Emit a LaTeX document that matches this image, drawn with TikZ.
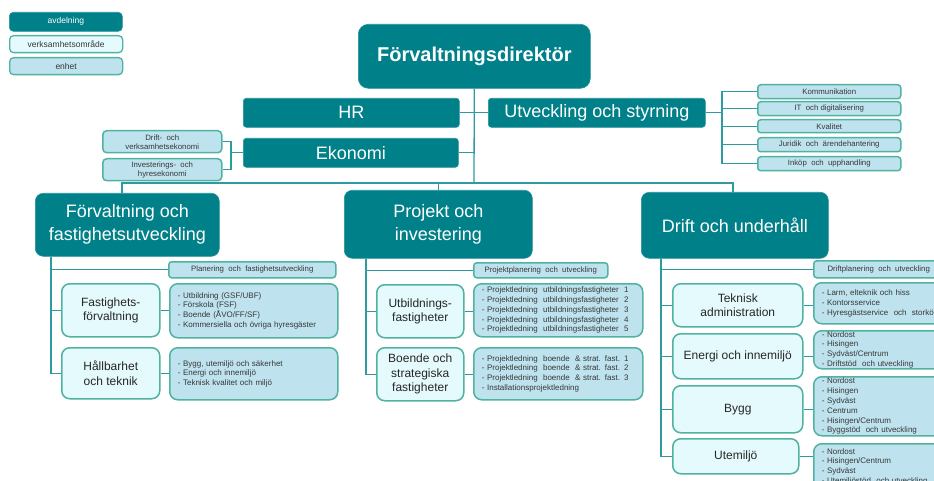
\documentclass[tikz,border=0pt]{standalone}
\usepackage{fontspec}
\setmainfont{Liberation Sans}
\definecolor{dteal}{RGB}{0,128,137}
\definecolor{edgeg}{RGB}{80,178,160}
\definecolor{lfill}{RGB}{229,250,252}
\definecolor{bfill}{RGB}{190,227,238}
\definecolor{wire}{RGB}{46,156,158}
\definecolor{txt}{RGB}{55,55,55}
\newcommand\bx[7]{\pgfmathsetmacro\myW{#5-#3}\pgfmathsetmacro\myH{#6-#4}%
  \node[#1, minimum width=\myW pt, minimum height=\myH pt] (#2) at (#3,#4) {#7};}
\newcommand\lx[7]{\pgfmathsetmacro\myW{#5-#3-16}\pgfmathsetmacro\myH{#6-#4}%
  \node[#1, text width=\myW pt, inner xsep=8pt, minimum height=\myH pt] (#2) at (#3,#4) {#7};}
\tikzset{
  base/.style={anchor=north west, inner sep=0pt, align=center},
  avd/.style={base, fill=dteal, draw=dteal!85!white, line width=0.6pt, text=white, rounded corners=8pt},
  avdsmall/.style={avd, rounded corners=3pt},
  verk/.style={base, fill=lfill, draw=edgeg, line width=1.5pt, text=black!85, rounded corners=8pt, font=\fontsize{12}{14.5}\selectfont},
  enh/.style={base, fill=bfill, draw=edgeg, line width=1.5pt, text=txt, rounded corners=3pt, font=\fontsize{7.8}{9}\selectfont},
  lst/.style={base, align=left, fill=bfill, draw=edgeg, line width=1.5pt, text=txt, rounded corners=8pt, font=\fontsize{8}{9.8}\selectfont},
  wirel/.style={draw=wire, line width=1.3pt},
  big/.style={font=\fontsize{18}{23}\selectfont},
}
\begin{document}
\begin{tikzpicture}[x=1pt,y=-1pt]
\useasboundingbox (0,0) rectangle (934,481);
\clip (0,0) rectangle (934,481);
\fill[white] (0,0) rectangle (934,481);
% legend
\bx{avdsmall, rounded corners=4pt, font=\fontsize{8.5}{10}\selectfont}{lega}{9}{12}{122}{31}{avdelning}
\bx{verk, rounded corners=4pt, line width=1.3pt, font=\fontsize{8.5}{10}\selectfont, text=txt}{legb}{9}{35}{122}{52}{verksamhetsområde}
\bx{enh, rounded corners=4pt, line width=1.3pt, font=\fontsize{8.5}{10}\selectfont}{legc}{9}{57}{122}{74}{enhet}
% top
\bx{avd, rounded corners=10pt, font=\fontsize{20}{24}\selectfont\bfseries}{dir}{358}{24}{590}{88}{Förvaltningsdirektör}
\bx{avdsmall, big}{hr}{243}{98}{459}{127}{HR}
\bx{avdsmall, big}{ut}{488}{98}{705}{127}{Utveckling och styrning}
\bx{avdsmall, big}{ek}{243}{138}{458}{167}{Ekonomi}
% right top list
\bx{enh}{k1}{757}{84}{900}{98}{Kommunikation}
\bx{enh}{k2}{757}{101}{900}{115}{IT\ \ och digitalisering}
\bx{enh}{k3}{757}{119}{900}{132}{Kvalitet}
\bx{enh}{k4}{757}{137}{900}{151}{Juridik\ \ och\ \ ärendehantering}
\bx{enh}{k5}{757}{156}{900}{170}{Inköp\ \ och\ \ upphandling}
% economy
\bx{enh, rounded corners=4pt}{e1}{102}{130}{221}{152}{Drift-\ \ och\\verksamhetsekonomi}
\bx{enh, rounded corners=4pt}{e2}{102}{158}{221}{180}{Investerings-\ \ och\\hyresekonomi}
% departments
\bx{avd, big}{fv}{35}{193}{219}{256}{Förvaltning och\\fastighetsutveckling}
\bx{avd, big}{pi}{344}{190}{532}{258}{Projekt och\\investering}
\bx{avd, big}{dr}{641}{192}{828}{258}{Drift och underhåll}
% left column
\bx{enh}{pl1}{168}{261}{335}{277}{Planering\ \ och\ \ fastighetsutveckling}
\bx{verk}{a1}{61}{283}{159}{336}{Fastighets-\\förvaltning}
\lx{lst}{la1}{169}{283}{337}{337}{- Utbildning (GSF/UBF)\\- Förskola (FSF)\\- Boende (ÅVO/FF/SF)\\- Kommersiella och övriga hyresgäster}
\bx{verk}{a2}{61}{347}{159}{398}{Hållbarhet\\och teknik}
\lx{lst}{la2}{169}{347}{337}{399}{- Bygg, utemiljö och säkerhet\\- Energi och innemiljö\\- Teknisk kvalitet och miljö}
% middle column
\bx{enh}{pl2}{473}{262}{607}{277}{Projektplanering\ \ och\ \ utveckling}
\bx{verk}{b1}{376}{284}{463}{337}{Utbildnings-\\fastigheter}
\lx{lst}{lb1}{473}{283}{642}{336}{- Projektledning\ \ utbildningsfastigheter\ \ 1\\- Projektledning\ \ utbildningsfastigheter\ \ 2\\- Projektledning\ \ utbildningsfastigheter\ \ 3\\- Projektledning\ \ utbildningsfastigheter\ \ 4\\- Projektledning\ \ utbildningsfastigheter\ \ 5}
\bx{verk}{b2}{376}{347}{463}{400}{Boende och\\strategiska\\fastigheter}
\lx{lst}{lb2}{473}{347}{642}{399}{- Projektledning\ \ boende\ \ \& strat. fast. 1\\- Projektledning\ \ boende\ \ \& strat. fast. 2\\- Projektledning\ \ boende\ \ \& strat. fast. 3\\- Installationsprojektledning}
% right column
\bx{enh}{pl3}{813}{260}{943}{277}{Driftplanering\ \ och\ \ utveckling}
\bx{verk}{d1}{672}{283}{802}{326}{Teknisk\\administration}
\lx{lst}{ld1}{813}{282}{970}{323}{- Larm, elteknik och hiss\\- Kontorsservice\\- Hyresgästservice\ \ och\ \ storkök}
\bx{verk}{d2}{672}{333}{802}{378}{Energi och innemiljö}
\lx{lst}{ld2}{813}{330}{970}{368}{- Nordost\\- Hisingen\\- Sydväst/Centrum\\- Driftstöd\ \ och utveckling}
\bx{verk}{d3}{672}{385}{802}{432}{Bygg}
\lx{lst}{ld3}{813}{376}{970}{435}{- Nordost\\- Hisingen\\- Sydväst\\- Centrum\\- Hisingen/Centrum\\- Byggstöd\ \ och utveckling}
\bx{verk}{d4}{672}{438}{798}{473}{Utemiljö}
\lx{lst}{ld4}{813}{443}{970}{489}{- Nordost\\- Hisingen/Centrum\\- Sydväst\\- Utemiljöstöd\ \ och utveckling}
% connector coordinates
\coordinate (bus) at (474,183);
\coordinate (dl) at (122,183);
\coordinate (dR) at (733,183);
\coordinate (ubx) at (722,0);
\coordinate (ebx) at (231,0);
\coordinate (c1) at (51,0);
\coordinate (c2) at (366,0);
\coordinate (c3) at (661,0);
\begin{scope}[wirel]
\draw (dir.south) -- (bus);
\draw (dl |- fv.north) -- (dl) -- (dR) -- (dR |- dr.north);
\draw (pi.north) -- (pi.north |- bus);
\draw (hr.east) -- (hr.east -| dir.south);
\draw (ut.west) -- (ut.west -| dir.south);
\draw (ek.east) -- (ek.east -| dir.south);
% right top bracket
\draw (ut.east) -- (ut.east -| ubx);
\draw (k1.west) -- (k1.west -| ubx) -- (k5.west -| ubx) -- (k5.west);
\draw (k2.west) -- (k2.west -| ubx);
\draw (k3.west) -- (k3.west -| ubx);
\draw (k4.west) -- (k4.west -| ubx);
% economy bracket
\draw (e1.east) -- (e1.east -| ebx) -- (e2.east -| ebx) -- (e2.east);
\draw (ek.west) -- (ek.west -| ebx);
% left column
\draw (fv.south -| c1) -- (a2.west -| c1) -- (a2.west);
\draw (pl1.west -| c1) -- (pl1.west);
\draw (a1.west -| c1) -- (a1.west);
\draw (a1.east) -- (a1.east -| la1.west);
\draw (a2.east) -- (a2.east -| la2.west);
% middle column
\draw (pi.south -| c2) -- (b2.west -| c2) -- (b2.west);
\draw (pl2.west -| c2) -- (pl2.west);
\draw (b1.west -| c2) -- (b1.west);
\draw (b1.east) -- (b1.east -| lb1.west);
\draw (b2.east) -- (b2.east -| lb2.west);
% right column
\draw (dr.south -| c3) -- (d4.west -| c3) -- (d4.west);
\draw (pl3.west -| c3) -- (pl3.west);
\draw (d1.west -| c3) -- (d1.west);
\draw (d2.west -| c3) -- (d2.west);
\draw (d3.west -| c3) -- (d3.west);
\draw (d1.east) -- (d1.east -| ld1.west);
\draw (d2.east) -- (d2.east -| ld2.west);
\draw (d3.east) -- (d3.east -| ld3.west);
\draw (d4.east) -- (d4.east -| ld4.west);
\end{scope}
\end{tikzpicture}
\end{document}
